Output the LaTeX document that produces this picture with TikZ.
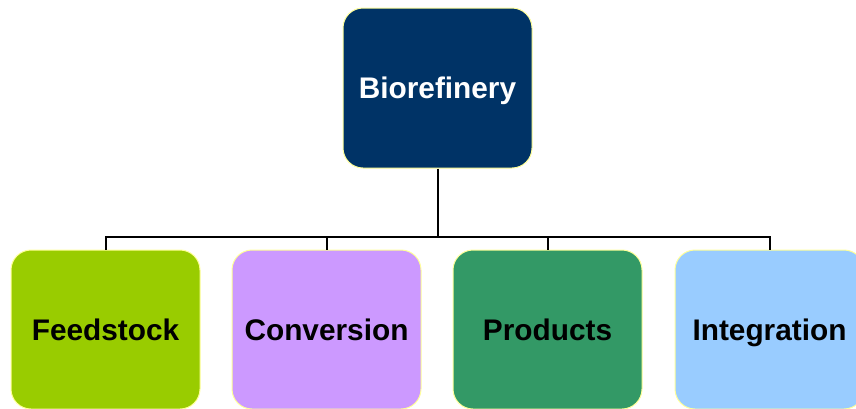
\documentclass[tikz,border=0pt]{standalone}
\usepackage{fontspec}
\setmainfont{Liberation Sans}
\begin{document}
\begin{tikzpicture}[x=1pt,y=-1pt,
  box/.style={draw=boxedge, line width=1pt, rounded corners=20pt,
    minimum width=189pt, minimum height=159pt, inner sep=0pt,
    text height=21pt, text depth=0pt,
    font=\fontsize{29.8}{36}\selectfont\bfseries},
  link/.style={draw=black, line width=2pt}]
\definecolor{boxedge}{HTML}{FFFF99}
\definecolor{navy}{HTML}{003366}
\definecolor{lime}{HTML}{99CC00}
\definecolor{lilac}{HTML}{CC99FF}
\definecolor{seagreen}{HTML}{339966}
\definecolor{skyblue}{HTML}{99CCFF}
\useasboundingbox (0,0) rectangle (856,408);
\clip (0,0) rectangle (856,408);
% root and the four branches
\node[box, fill=navy, text=white, minimum height=160pt] (root) at (437.5,88) {Biorefinery};
\node[box, fill=lime]     (feed) at (105.5,329.5) {Feedstock};
\node[box, fill=lilac]    (conv) at (326.5,329.5) {Conversion};
\node[box, fill=seagreen] (prod) at (547.5,329.5) {Products};
\node[box, fill=skyblue]  (integ) at (769.5,329.5) {Integration};
% tree connectors
\coordinate (bar) at (437.5,237);
\draw[link] (root.south) -- (bar);
\draw[link] (bar) -| (feed.north);
\draw[link] (bar) -| (conv.north);
\draw[link] (bar) -| (prod.north);
\draw[link] (bar) -| (integ.north);
\end{tikzpicture}
\end{document}
